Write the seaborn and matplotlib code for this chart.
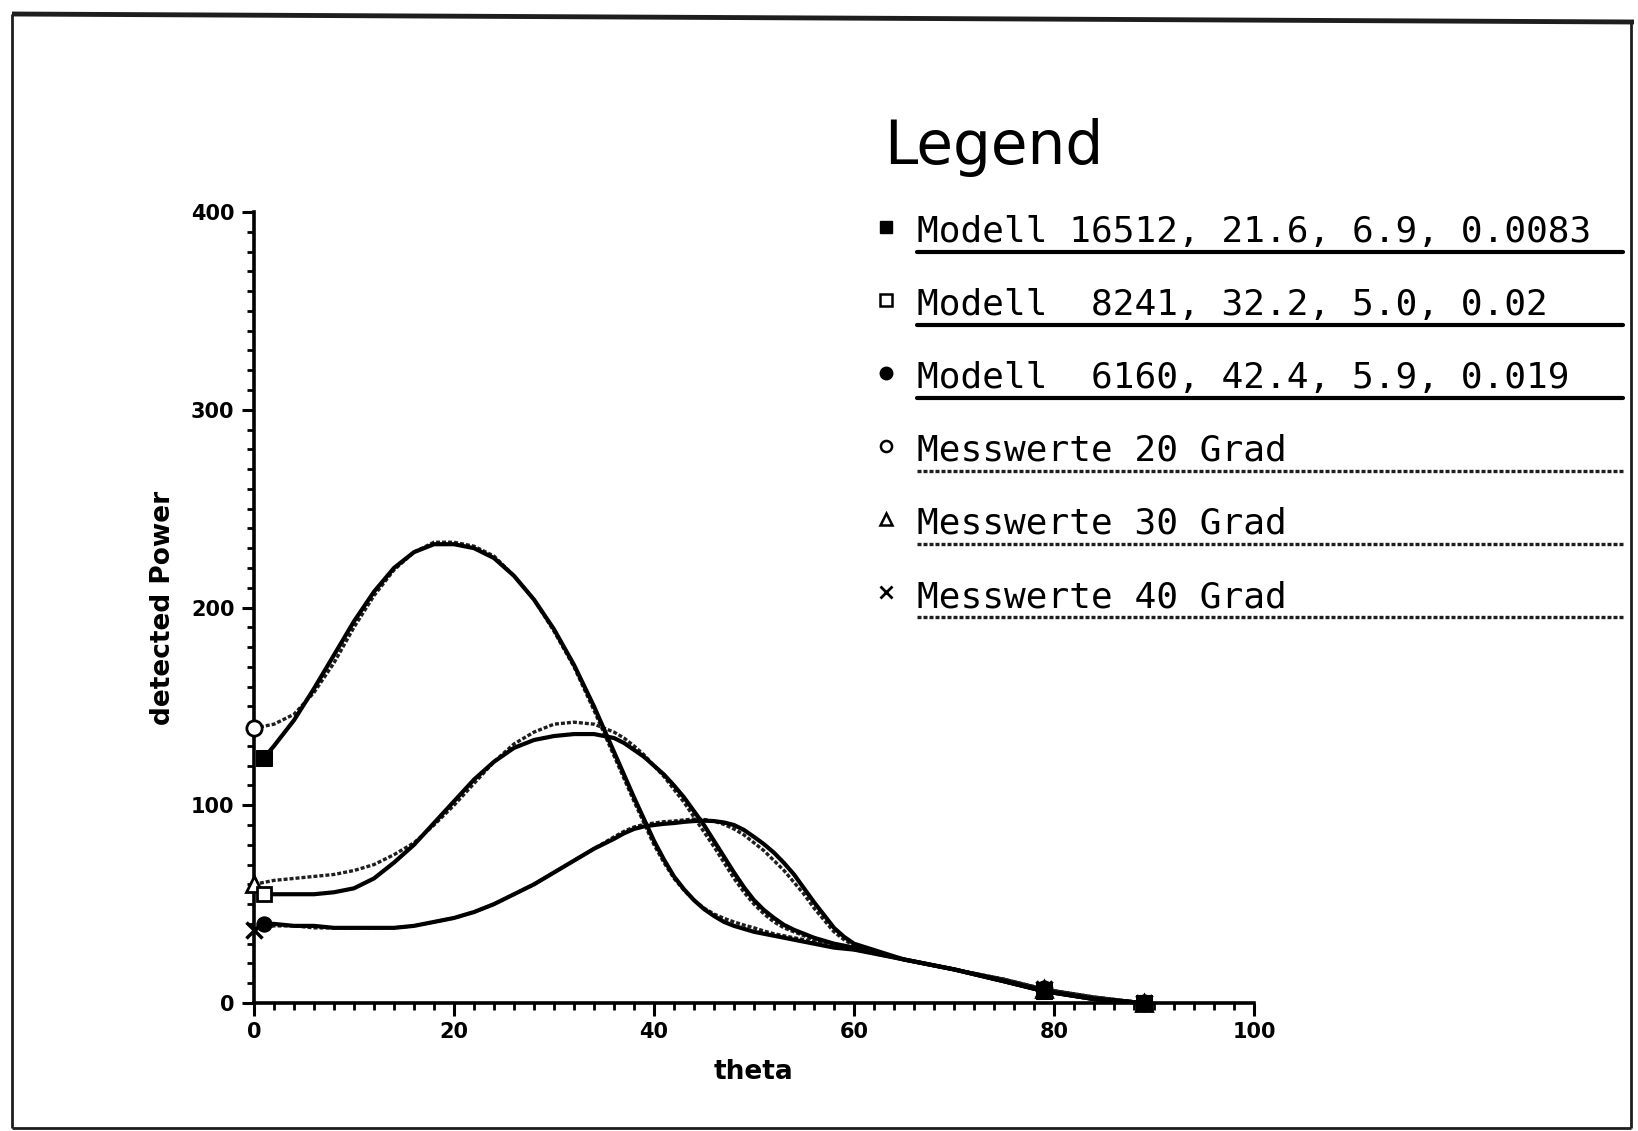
import matplotlib
matplotlib.use("Agg")
import numpy as np
import pandas as pd
import matplotlib.pyplot as plt
import seaborn as sns
from matplotlib.lines import Line2D
from matplotlib.ticker import MultipleLocator

# ---- data -------------------------------------------------------------
theta_mess = [0, 2, 4, 6, 8, 10, 12, 14, 16, 18, 20, 22, 24, 26, 28, 30, 32, 34,
              36, 37, 38, 39, 40, 41, 42, 43, 44, 45, 46, 47, 48, 49, 50, 51, 52, 53,
              54, 55, 56, 57, 58, 59, 60, 65, 70, 75, 79, 84, 89]
theta_modell = [1] + theta_mess[1:]

mess_20 = [139, 141, 146, 157, 172, 190, 206, 219, 228, 233, 233, 231, 226, 216, 204, 188, 170, 148,
           125, 113.5, 102, 91, 80, 71, 63, 57, 52, 48, 45, 42.8, 41, 39.4, 38, 36.4, 35, 34,
           33, 32, 31, 30, 29, 28, 27, 22, 17, 12, 7, 3, 0]
modell_16512 = [124, 130, 143, 159, 176, 193, 208, 220, 228, 232, 232, 230, 225, 216, 204, 189, 171, 150,
                127, 115.5, 104, 93, 82, 72.5, 64, 57.5, 52, 47.5, 44, 41, 39, 37.5, 36, 35, 34, 33,
                32, 31, 30, 29, 28, 27.5, 27, 22, 17, 11, 6, 2, 0]

mess_30 = [60, 62, 63, 64, 65, 67, 70, 75, 81, 90, 100, 111, 122, 131, 137, 141, 142, 141,
           137, 134, 130, 125.5, 120, 114.5, 108, 101.5, 94, 86.5, 79, 71, 63, 56, 50, 45, 41, 38,
           36, 34, 32, 31, 30, 29, 28, 22, 17, 12, 7, 3, 0]
modell_8241 = [55, 55, 55, 55, 56, 58, 63, 71, 80, 91, 102, 113, 122, 129, 133, 135, 136, 136,
               134, 131.5, 128, 124.5, 120, 115.5, 110, 104, 97, 90, 82, 74, 66, 58.5, 52, 47, 43, 39.5,
               37, 35, 33, 31.5, 30, 29, 28, 22, 17, 11, 6, 2, 0]

mess_40 = [37, 39, 39, 38, 38, 38, 38, 38, 39, 41, 43, 46, 50, 55, 60, 66, 72, 78,
           84, 86.8, 89, 90.3, 91, 91.7, 92, 92.6, 93, 92.8, 92, 90.3, 88, 85, 81, 77, 72, 67,
           61, 55, 48, 42, 36, 32, 29, 22, 17, 12, 7, 3, 0]
modell_6160 = [40, 40, 39, 39, 38, 38, 38, 38, 39, 41, 43, 46, 50, 55, 60, 66, 72, 78,
               83, 85.8, 88, 89.3, 90, 90.6, 91, 91.6, 92, 92.2, 92, 91.3, 90, 87.5, 84, 80.3, 76, 70.8,
               65, 58, 51, 44.5, 38, 33.5, 30, 22, 17, 11, 6, 2, 0]

legend_labels = ["Modell 16512, 21.6, 6.9, 0.0083",
                 "Modell  8241, 32.2, 5.0, 0.02",
                 "Modell  6160, 42.4, 5.9, 0.019",
                 "Messwerte 20 Grad",
                 "Messwerte 30 Grad",
                 "Messwerte 40 Grad"]

x_ticks = [0, 20, 40, 60, 80, 100]
y_ticks = [0, 100, 200, 300, 400]

# ---- styling ----------------------------------------------------------
sns.set_style("white")
plt.rcParams["font.family"] = ["DejaVu Sans"]
plt.rcParams["text.color"] = "black"
plt.rcParams["axes.labelcolor"] = "black"

W, H = 1638, 1131
fig = plt.figure(figsize=(W / 100, H / 100), dpi=100)
fig.patch.set_facecolor("white")


def fx(px):
    return px / W


def fy(py):
    return 1 - py / H


ax = fig.add_axes([fx(254), fy(1003), (1254 - 254) / W, (1003 - 212) / H])

solid = dict(color="black", linewidth=3.0, linestyle="-")
dotted = dict(color="#1e1e1e", linewidth=2.4, linestyle=(0, (1.2, 0.6)))

# (label, x, y, line style, marker style)
series = [
    (legend_labels[3], theta_mess, mess_20, dotted,
     dict(marker="o", markersize=11, markerfacecolor="white", markeredgewidth=2)),
    (legend_labels[4], theta_mess, mess_30, dotted,
     dict(marker="^", markersize=11, markerfacecolor="white", markeredgewidth=2)),
    (legend_labels[5], theta_mess, mess_40, dotted,
     dict(marker="x", markersize=11, markeredgewidth=2.5)),
    (legend_labels[2], theta_modell, modell_6160, solid,
     dict(marker="o", markersize=11, markerfacecolor="black")),
    (legend_labels[1], theta_modell, modell_8241, solid,
     dict(marker="s", markersize=10, markerfacecolor="white", markeredgewidth=2)),
    (legend_labels[0], theta_modell, modell_16512, solid,
     dict(marker="s", markersize=11, markerfacecolor="black")),
]

for z, (lab, xs, ys, ls, mk) in enumerate(series):
    df = pd.DataFrame({"theta": xs, "power": ys})
    marks = [0, xs.index(79), len(xs) - 1]
    sns.lineplot(data=df, x="theta", y="power", ax=ax, markevery=marks,
                 markeredgecolor="black", clip_on=False, zorder=3 + z, **ls, **mk)

ax.set_xlim(0, 100)
ax.set_ylim(0, 400)
ax.set_xticks(x_ticks)
ax.set_yticks(y_ticks)
ax.xaxis.set_minor_locator(MultipleLocator(2))
ax.yaxis.set_minor_locator(MultipleLocator(10))
for s in ["top", "right"]:
    ax.spines[s].set_visible(False)
for s in ["left", "bottom"]:
    ax.spines[s].set_linewidth(2.6)
    ax.spines[s].set_color("black")
ax.tick_params(which="both", bottom=True, left=True, top=False, right=False)
ax.tick_params(which="major", direction="out", length=9, width=2.2, color="black",
               labelsize=15, labelcolor="black", pad=5)
ax.tick_params(which="minor", direction="out", length=5, width=2, color="black")
for t in ax.get_xticklabels() + ax.get_yticklabels():
    t.set_fontweight("bold")
ax.set_facecolor("none")

ax.set_xlabel("theta", fontsize=19, fontweight="bold", labelpad=12, color="black")
ax.set_ylabel("detected Power", fontsize=19, fontweight="bold", color="black")
ax.yaxis.set_label_coords(-0.078, 0.5)

# ---- legend block -----------------------------------------------------
fig.text(fx(884), fy(164), "Legend", fontsize=43, fontweight="normal",
         ha="left", va="baseline", color="black")

legend_markers = [
    dict(marker="s", markersize=9, markerfacecolor="black"),
    dict(marker="s", markersize=8, markerfacecolor="white", markeredgewidth=1.8),
    dict(marker="o", markersize=9, markerfacecolor="black"),
    dict(marker="o", markersize=8, markerfacecolor="white", markeredgewidth=1.8),
    dict(marker="^", markersize=8, markerfacecolor="white", markeredgewidth=1.8),
    dict(marker="x", markersize=9, markeredgewidth=2),
]
legend_lines = [solid, solid, solid, dotted, dotted, dotted]

for i, (lab, mk, ls) in enumerate(zip(legend_labels, legend_markers, legend_lines)):
    base = 242 + 73 * i
    fig.text(fx(917), fy(base), lab, fontsize=26, family="DejaVu Sans Mono",
             ha="left", va="baseline", color="black")
    fig.add_artist(Line2D([fx(886)], [fy(base - 15)], transform=fig.transFigure,
                          color="black", linestyle="none", markeredgecolor="black", **mk))
    fig.add_artist(Line2D([fx(917), fx(1623)], [fy(base + 10), fy(base + 10)],
                          transform=fig.transFigure, **ls))

# ---- page frame -------------------------------------------------------
frame = dict(transform=fig.transFigure, color="#1e1e1e", solid_capstyle="butt")
fig.add_artist(Line2D([fx(12), fx(1634)], [fy(14), fy(22)], linewidth=3.5, **frame))
fig.add_artist(Line2D([fx(12), fx(12)], [fy(14), fy(1128)], linewidth=2, **frame))
fig.add_artist(Line2D([fx(1631), fx(1631)], [fy(22), fy(1128)], linewidth=2, **frame))
fig.add_artist(Line2D([fx(12), fx(1631)], [fy(1128), fy(1128)], linewidth=2, **frame))

fig.savefig("out.png", dpi=100, facecolor="white")
